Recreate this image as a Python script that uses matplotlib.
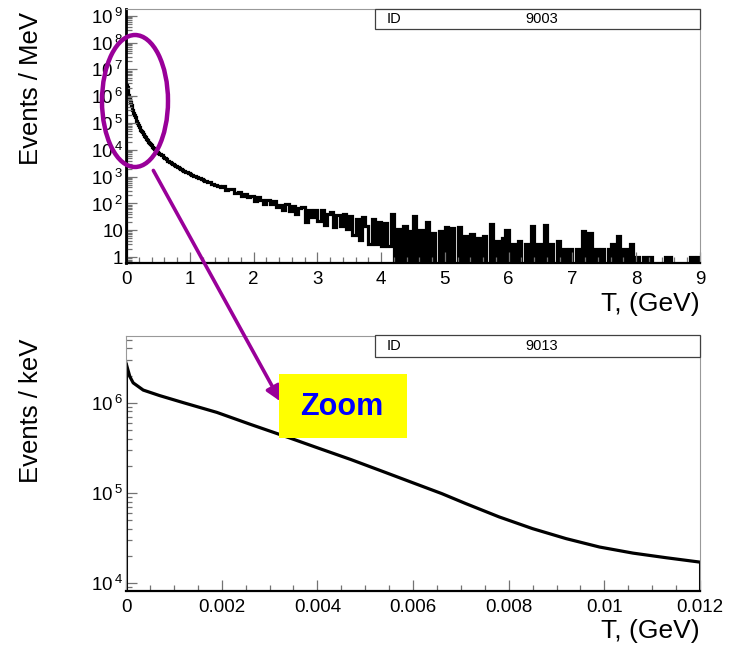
import numpy as np
import matplotlib
matplotlib.use('Agg')
import matplotlib.pyplot as plt
from matplotlib.patches import Ellipse, Rectangle, FancyArrowPatch
from matplotlib.ticker import FixedLocator, LogLocator, MultipleLocator, FuncFormatter, NullFormatter

plt.rcParams['font.family'] = ['Liberation Sans', 'DejaVu Sans']
plt.rcParams['mathtext.fontset'] = 'custom'
plt.rcParams['mathtext.rm'] = 'Liberation Sans'

# ---- data: ID 9003, kinetic energy spectrum (Events / MeV) ----
# 12.5 MeV bins up to 0.5 GeV, 25 MeV up to 1.5 GeV, then 50 MeV bins up to 9 GeV
edges_9003 = np.concatenate([np.linspace(0, 0.5, 41)[:-1],
                             np.linspace(0.5, 1.5, 41)[:-1],
                             np.linspace(1.5, 9.0, 151)])
counts_low = [2.82e6, 2.14e6, 1.55e6, 1.12e6, 8.3e5, 6.3e5, 4.9e5, 3.8e5, 3.0e5, 2.45e5,
              2.0e5, 1.66e5, 1.38e5, 1.17e5, 1.0e5, 8.5e4, 7.4e4, 6.5e4, 5.6e4, 5.0e4,
              4.5e4, 4.0e4, 3.55e4, 3.16e4, 2.9e4, 2.6e4, 2.4e4, 2.2e4, 2.0e4, 1.82e4,
              1.66e4, 1.55e4, 1.41e4, 1.32e4, 1.2e4, 1.12e4, 1.05e4, 9.8e3, 9.1e3, 8.5e3]
counts_knee = [7760, 6920, 6170, 5500, 4900, 4370, 3890, 3550, 3240, 2950,
               2690, 2450, 2240, 2040, 1910, 1780, 1660, 1550, 1450, 1350,
               1260, 1175, 1100, 1020, 980, 880, 870, 790, 775, 700,
               690, 620, 618, 552, 548, 490, 492, 440, 448, 400]
counts_mid = [437, 309, 339, 347, 240, 263, 191, 234, 178, 191,
              126, 170, 138, 95, 138, 93, 120, 72, 91, 58,
              98, 52, 81, 40, 65, 71, 21, 59, 31, 55,
              22, 55, 16, 41, 48, 13, 37, 15, 39, 11,
              35, 6.6, 27, 4.5, 30, 15, 3.2, 26, 3, 19.5, 2.5, 18.6, 2.5, 40]
counts_tail = [0, 11, 0, 14, 0, 9, 35, 0, 10, 0, 20, 0, 8, 0, 9, 0,
               13, 0, 12, 0, 13, 0, 6, 0, 7, 0, 5, 0, 6, 0, 17, 0,
               4, 0, 5, 10, 0, 3, 0, 4, 0, 3, 0, 14, 0, 3, 0, 16,
               0, 3, 0, 4, 0, 2, 0, 2, 0, 2, 0, 9, 0, 8, 0, 2,
               0, 2, 0, 2, 3, 0, 6, 0, 2, 0, 3, 0, 1, 0, 1, 0,
               1, 0, 0, 0, 0, 1, 1, 0, 0, 0, 0, 0, 0, 1, 0, 1]
counts_9003 = np.array(counts_low + counts_knee + counts_mid + counts_tail, dtype=float)

# ---- data: ID 9013, zoom on 0 - 12 MeV (Events / keV) ----
t_9013 = [0.0, 0.00008, 0.00015, 0.00036, 0.0007, 0.0012, 0.0019, 0.0026, 0.0034, 0.0040,
          0.0047, 0.0054, 0.0060, 0.0066, 0.0071, 0.0078, 0.0085, 0.0092, 0.0099, 0.0106,
          0.0113, 0.0120]
n_9013 = [2.75e6, 1.95e6, 1.66e6, 1.38e6, 1.2e6, 1.0e6, 7.8e5, 5.75e5, 4.1e5, 3.16e5,
          2.34e5, 1.7e5, 1.29e5, 9.8e4, 7.6e4, 5.4e4, 4.0e4, 3.1e4, 2.5e4, 2.14e4,
          1.9e4, 1.7e4]

W, H = 740, 645


def fx(x):
    return x / W


def fy(y):
    return 1 - y / H


def log_fmt(v, pos):
    e = int(round(np.log10(v)))
    if e == 0:
        return '1'
    if e == 1:
        return '10'
    return r'$\mathregular{10^{\,%d}}$' % e


def style_axes(ax, left_black):
    for s in ['top', 'right']:
        ax.spines[s].set_color('0.6')
        ax.spines[s].set_linewidth(0.8)
    ax.spines['bottom'].set_color('black')
    ax.spines['bottom'].set_linewidth(1.6)
    if left_black:
        ax.spines['left'].set_color('black')
        ax.spines['left'].set_linewidth(2.0)
    else:
        ax.spines['left'].set_color('0.6')
        ax.spines['left'].set_linewidth(0.8)
    ax.tick_params(which='both', direction='in', color='0.45', width=0.9, labelsize=13.5)
    ax.tick_params(which='major', length=8)
    ax.tick_params(which='minor', length=4.5)
    ax.tick_params(axis='x', pad=6)
    ax.tick_params(axis='y', pad=2)


def id_box(y_top, y_bot, label):
    fig.add_artist(Rectangle((fx(375), fy(y_bot)), (700 - 375) / W, (y_bot - y_top) / H,
                             transform=fig.transFigure, facecolor='white',
                             edgecolor='0.25', lw=0.9, zorder=3))
    yc = fy((y_top + y_bot) / 2)
    fig.text(fx(387), yc, 'ID', fontsize=10.5, va='center', ha='left', zorder=4)
    fig.text(fx(542), yc, label, fontsize=10.5, va='center', ha='center', zorder=4)


fig = plt.figure(figsize=(7.4, 6.45), dpi=100)

# ---- top panel ----
ax1 = fig.add_axes([fx(126), fy(263), 574 / W, (263 - 9) / H])
floor = 1e-3
shown = np.where(counts_9003 > 0, counts_9003, floor)
ax1.stairs(shown, edges_9003, baseline=floor, color='black', lw=2.3)
# sparse tail: many empty bins -> drawn as a solid block like the fine-binned original
n_tail = len(counts_tail)
ax1.stairs(shown[-n_tail:], edges_9003[-n_tail - 1:], baseline=floor, fill=True,
           color='black', lw=0)
ax1.set_yscale('log')
ax1.set_xlim(0, 9)
ax1.set_ylim(0.6, 1.8e9)
ax1.xaxis.set_major_locator(MultipleLocator(1))
ax1.xaxis.set_minor_locator(MultipleLocator(0.2))
ax1.yaxis.set_major_locator(FixedLocator(10.0 ** np.arange(0, 10)))
ax1.yaxis.set_minor_locator(LogLocator(base=10, subs=np.arange(2, 10), numticks=100))
ax1.yaxis.set_major_formatter(FuncFormatter(log_fmt))
ax1.yaxis.set_minor_formatter(NullFormatter())
ax1.xaxis.set_major_formatter(FuncFormatter(lambda v, p: '%g' % v))
style_axes(ax1, True)

# ---- bottom panel ----
ax2 = fig.add_axes([fx(126), fy(591), 574 / W, (591 - 336) / H])
ax2.set_yscale('log')
ax2.set_xlim(0, 0.012)
ax2.set_ylim(10 ** 3.91, 10 ** 6.74)
ax2.plot(t_9013, n_9013, color='black', lw=2.3, solid_joinstyle='round')
ymin2 = ax2.get_ylim()[0]
ax2.vlines([t_9013[0], t_9013[-1]], ymin2, [n_9013[0], n_9013[-1]], color='black', lw=2.2)
ax2.xaxis.set_major_locator(MultipleLocator(0.002))
ax2.xaxis.set_minor_locator(MultipleLocator(0.0005))
ax2.yaxis.set_major_locator(FixedLocator([1e4, 1e5, 1e6]))
ax2.yaxis.set_minor_locator(LogLocator(base=10, subs=np.arange(2, 10), numticks=100))
ax2.yaxis.set_major_formatter(FuncFormatter(log_fmt))
ax2.yaxis.set_minor_formatter(NullFormatter())
ax2.xaxis.set_major_formatter(FuncFormatter(lambda v, p: '%g' % round(v, 4)))
style_axes(ax2, False)

# axis titles (ROOT style, at the axis ends)
fig.text(fx(31), fy(12), 'Events / MeV', rotation=90, ha='center', va='top', fontsize=18.5)
fig.text(fx(31), fy(339), 'Events / keV', rotation=90, ha='center', va='top', fontsize=18.5)
fig.text(fx(700), fy(304), 'T, (GeV)', ha='right', va='center', fontsize=19)
fig.text(fx(700), fy(631), 'T, (GeV)', ha='right', va='center', fontsize=19)

id_box(9, 29, '9003')
id_box(335, 357, '9013')

# zoom annotation
purple = '#990099'
fig.add_artist(Ellipse((fx(135), fy(101)), 66 / W, 132 / H, transform=fig.transFigure,
                       fill=False, edgecolor=purple, lw=3.2, zorder=5))
fig.add_artist(FancyArrowPatch((fx(152), fy(168)), (fx(282), fy(404)),
                               transform=fig.transFigure, arrowstyle='-|>',
                               mutation_scale=22, color=purple, lw=2.6, zorder=5))
fig.add_artist(Rectangle((fx(279), fy(438)), 128 / W, 64 / H, transform=fig.transFigure,
                         facecolor='#ffff00', edgecolor='none', zorder=6))
fig.text(fx(342), fy(407), 'Zoom', color='#0000ff', fontsize=22, fontweight='bold',
         ha='center', va='center', zorder=7)

fig.savefig('out.png', dpi=100)
